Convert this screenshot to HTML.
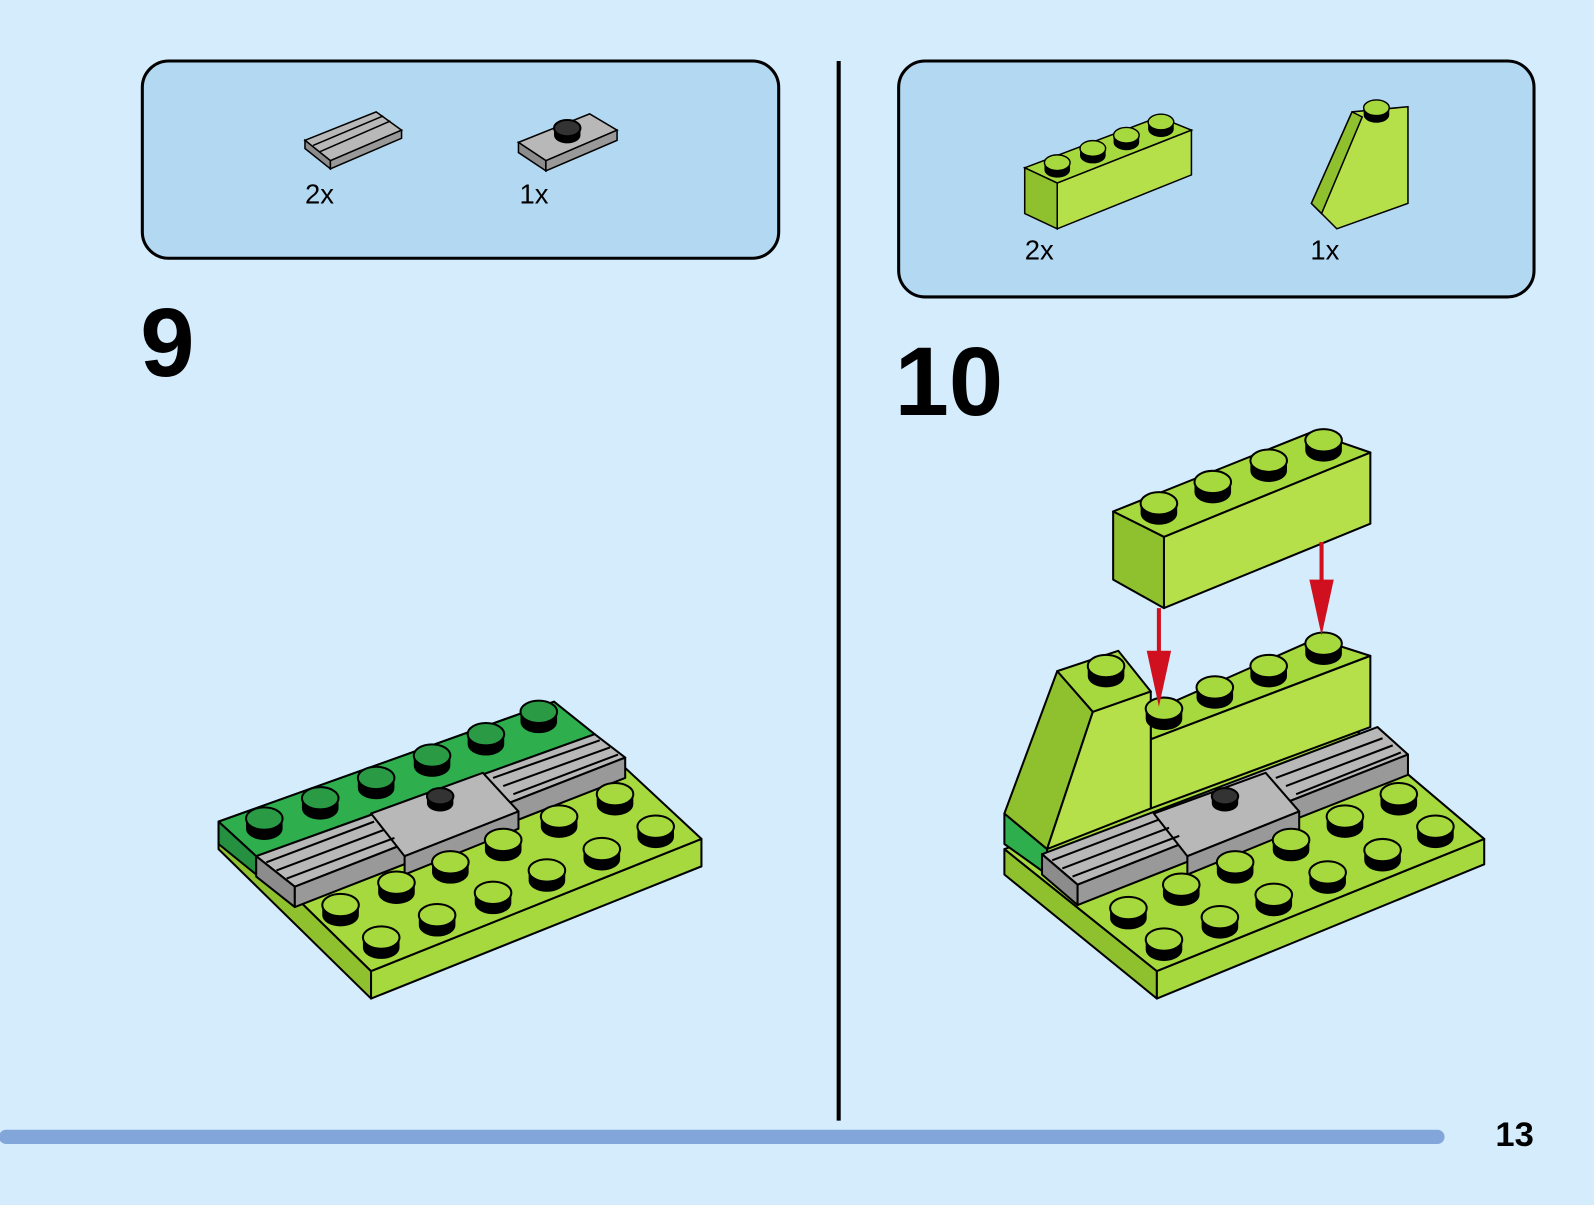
<!DOCTYPE html>
<html><head><meta charset="utf-8"><style>
html,body{margin:0;padding:0;background:#d4ecfc;}
svg{display:block;}
text{font-family:"Liberation Sans",sans-serif;}
</style></head><body>
<svg width="1594" height="1205" viewBox="0 0 1568 1185" preserveAspectRatio="none" xmlns="http://www.w3.org/2000/svg">
<defs>
<g id="sl"><path d="M-18,0 L-18,10 A18,11 0 0 0 18,10 L18,0 Z" fill="#000"/><ellipse cx="0" cy="0" rx="18" ry="11" fill="#a6d93e" stroke="#000" stroke-width="2"/></g>
<g id="sd"><path d="M-18,0 L-18,10 A18,11 0 0 0 18,10 L18,0 Z" fill="#000"/><ellipse cx="0" cy="0" rx="18" ry="11" fill="#2a9a44" stroke="#000" stroke-width="2"/></g>
<g id="sb"><path d="M-13,0 L-13,7 A13,8 0 0 0 13,7 L13,0 Z" fill="#000"/><ellipse cx="0" cy="0" rx="13" ry="8" fill="#333" stroke="#000" stroke-width="2"/></g>
</defs>
<rect width="1568" height="1185" fill="#d4ecfc"/>
<rect x="140" y="60" width="626" height="194" rx="26" fill="#b3d8f2" stroke="#000" stroke-width="3"/>
<rect x="884" y="60" width="625" height="232" rx="26" fill="#b3d8f2" stroke="#000" stroke-width="3"/>
<line x1="825" y1="60" x2="825" y2="1102" stroke="#000" stroke-width="4"/>
<line x1="6" y1="1118" x2="1414" y2="1118" stroke="#82a6d9" stroke-width="14" stroke-linecap="round"/>
<text x="1471" y="1127" font-size="34" font-weight="bold">13</text>
<text x="138" y="370" font-size="96" font-weight="bold">9</text>
<text x="880" y="408" font-size="96" font-weight="bold">10</text>
<g stroke="#000" stroke-width="1.5">
<polygon points="300,138 370,110 395,128 325,158" fill="#b8b8b8"/>
<polygon points="300,138 325,158 325,166 300,146" fill="#8c8c8c"/>
<polygon points="325,158 395,128 395,136 325,166" fill="#999"/>
<line x1="308" y1="143" x2="377" y2="114"/><line x1="315" y1="149" x2="384" y2="119"/>
<polygon points="510,140 580,112 607,128 537,158" fill="#b8b8b8"/>
<polygon points="510,140 537,158 537,168 510,150" fill="#8c8c8c"/>
<polygon points="537,158 607,128 607,138 537,168" fill="#999"/>
</g>
<use href="#sb" x="558" y="126"/>
<text x="300" y="200" font-size="27">2x</text>
<text x="511" y="200" font-size="27">1x</text>
<g stroke="#000" stroke-width="1.5">
<polygon points="1008,165 1140,115 1172,128 1040,180" fill="#a6d93e"/>
<polygon points="1008,165 1040,180 1040,225 1008,210" fill="#8fc12e"/>
<polygon points="1040,180 1172,128 1172,172 1040,225" fill="#b5e04a"/>
<polygon points="1290,200 1330,110 1385,105 1385,200 1315,225" fill="#b5e04a"/>
<polygon points="1290,200 1330,110 1340,115 1300,210" fill="#8fc12e"/>
</g>
<use href="#sl" x="1040" y="160" transform="translate(1040,160) scale(0.7) translate(-1040,-160)"/>
<use href="#sl" x="1075" y="146" transform="translate(1075,146) scale(0.7) translate(-1075,-146)"/>
<use href="#sl" x="1108" y="133" transform="translate(1108,133) scale(0.7) translate(-1108,-133)"/>
<use href="#sl" x="1142" y="120" transform="translate(1142,120) scale(0.7) translate(-1142,-120)"/>
<use href="#sl" x="1354" y="106" transform="translate(1354,106) scale(0.7) translate(-1354,-106)"/>
<text x="1008" y="255" font-size="27">2x</text>
<text x="1289" y="255" font-size="27">1x</text>

<g stroke="#000" stroke-width="2" stroke-linejoin="round">
<polygon points="215,808 365,955 365,982 215,835" fill="#8fc12e"/>
<polygon points="365,955 690,825 690,852 365,982" fill="#a6d93e"/>
<polygon points="215,808 545,690 690,825 365,955" fill="#a6d93e"/>
<polygon points="215,808 545,690 585,722 252,842" fill="#2fae4e"/>
<polygon points="215,808 252,842 252,860 215,830" fill="#249040"/>
<polygon points="252,842 585,722 615,745 290,872" fill="#b8b8b8"/>
<polygon points="252,842 290,872 290,892 252,862" fill="#8c8c8c"/>
<polygon points="290,872 615,745 615,765 290,892" fill="#999"/>
<polygon points="365,800 475,760 510,798 398,842" fill="#b8b8b8"/>
<polygon points="398,842 510,798 510,815 398,860" fill="#999"/>
<line x1="262" y1="848" x2="368" y2="808"/><line x1="272" y1="856" x2="378" y2="816"/><line x1="282" y1="864" x2="388" y2="824"/>
<line x1="485" y1="765" x2="590" y2="728"/><line x1="495" y1="773" x2="600" y2="735"/><line x1="505" y1="781" x2="608" y2="742"/>
</g>
<use href="#sd" x="260" y="805"/><use href="#sd" x="315" y="785"/><use href="#sd" x="370" y="765"/><use href="#sd" x="425" y="743"/><use href="#sd" x="478" y="722"/><use href="#sd" x="530" y="700"/>
<use href="#sb" x="433" y="783"/>
<use href="#sl" x="335" y="890"/><use href="#sl" x="390" y="868"/><use href="#sl" x="443" y="848"/><use href="#sl" x="495" y="826"/><use href="#sl" x="550" y="803"/><use href="#sl" x="605" y="781"/>
<use href="#sl" x="375" y="922"/><use href="#sl" x="430" y="900"/><use href="#sl" x="485" y="878"/><use href="#sl" x="538" y="856"/><use href="#sl" x="592" y="835"/><use href="#sl" x="645" y="813"/>

<g stroke="#000" stroke-width="2" stroke-linejoin="round">
<polygon points="988,835 1138,955 1138,982 988,860" fill="#8fc12e"/>
<polygon points="1138,955 1460,825 1460,850 1138,982" fill="#a6d93e"/>
<polygon points="988,835 1330,715 1460,825 1138,955" fill="#a6d93e"/>
<polygon points="988,800 1030,835 1030,860 988,830" fill="#2fae4e"/>
<polygon points="1025,840 1355,715 1385,742 1060,870" fill="#b8b8b8"/>
<polygon points="1025,840 1060,870 1060,890 1025,860" fill="#8c8c8c"/>
<polygon points="1060,870 1385,742 1385,762 1060,890" fill="#999"/>
<polygon points="1135,800 1245,760 1278,798 1168,842" fill="#b8b8b8"/>
<polygon points="1168,842 1278,798 1278,815 1168,860" fill="#999"/>
<line x1="1035" y1="846" x2="1140" y2="806"/><line x1="1045" y1="854" x2="1150" y2="814"/><line x1="1055" y1="862" x2="1160" y2="822"/>
<line x1="1255" y1="765" x2="1360" y2="726"/><line x1="1265" y1="773" x2="1370" y2="733"/><line x1="1275" y1="781" x2="1378" y2="740"/>
<polygon points="1132,700 1295,628 1348,645 1132,727" fill="#a6d93e"/>
<polygon points="1132,727 1348,645 1348,715 1132,795" fill="#b5e04a"/>
<polygon points="988,800 1040,660 1075,700 1030,835" fill="#8fc12e"/>
<polygon points="1075,700 1132,680 1132,795 1030,835" fill="#b5e04a"/>
<polygon points="1040,660 1100,640 1132,680 1075,700" fill="#a6d93e"/>
<polygon points="1095,503 1290,425 1348,445 1145,528" fill="#a6d93e"/>
<polygon points="1095,503 1145,528 1145,598 1095,570" fill="#8fc12e"/>
<polygon points="1145,528 1348,445 1348,515 1145,598" fill="#b5e04a"/>
</g>
<use href="#sb" x="1205" y="783"/>
<use href="#sl" x="1088" y="655"/>
<use href="#sl" x="1145" y="697"/><use href="#sl" x="1195" y="676"/><use href="#sl" x="1248" y="655"/><use href="#sl" x="1302" y="633"/>
<use href="#sl" x="1140" y="495"/><use href="#sl" x="1193" y="474"/><use href="#sl" x="1248" y="453"/><use href="#sl" x="1302" y="433"/>
<use href="#sl" x="1110" y="893"/><use href="#sl" x="1162" y="870"/><use href="#sl" x="1215" y="848"/><use href="#sl" x="1270" y="826"/><use href="#sl" x="1323" y="803"/><use href="#sl" x="1376" y="781"/>
<use href="#sl" x="1145" y="924"/><use href="#sl" x="1200" y="902"/><use href="#sl" x="1253" y="880"/><use href="#sl" x="1306" y="858"/><use href="#sl" x="1360" y="836"/><use href="#sl" x="1412" y="813"/>
<g fill="#d0101e" stroke="#d0101e">
<line x1="1140" y1="598" x2="1140" y2="660" stroke-width="4"/>
<polygon points="1128,640 1152,640 1140,695" stroke="none"/>
<line x1="1300" y1="533" x2="1300" y2="590" stroke-width="4"/>
<polygon points="1288,570 1312,570 1300,625" stroke="none"/>
</g>
</svg>
</body></html>
